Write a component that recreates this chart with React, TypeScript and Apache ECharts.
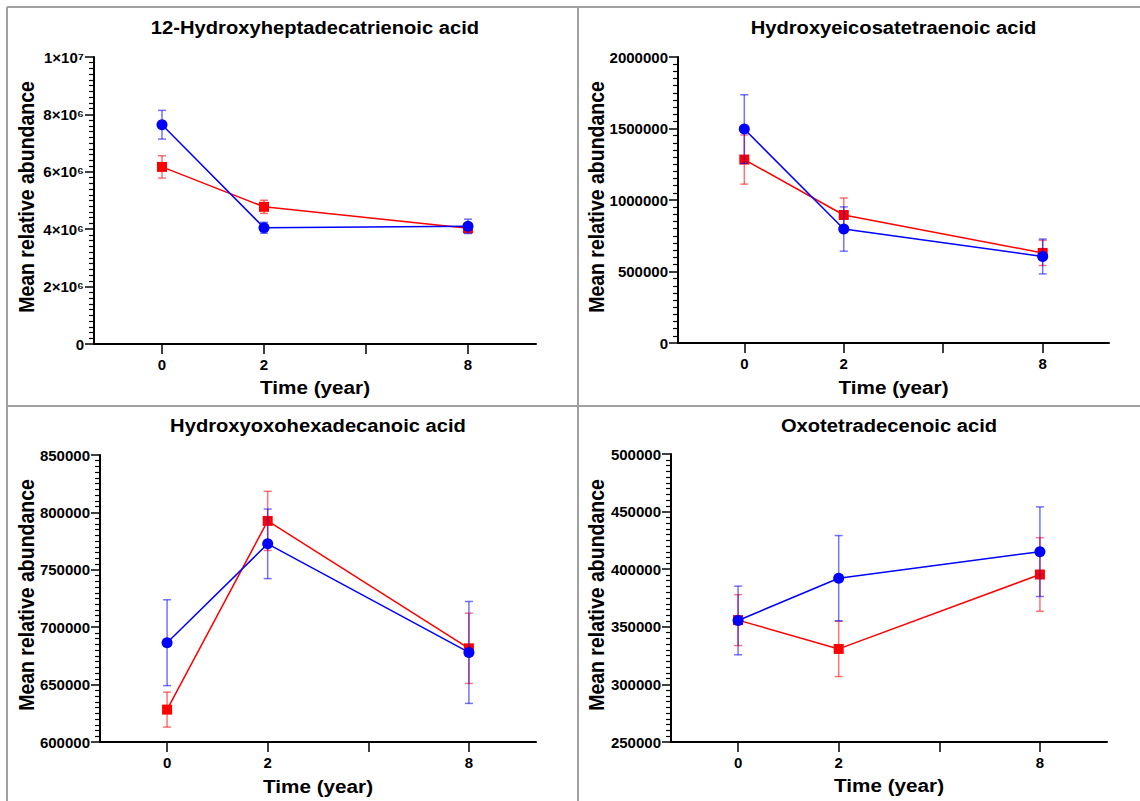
import React, { useEffect, useRef } from "react";
import * as echarts from "echarts";

// ---------- data ----------
const timeLabels = ["0", "2", "8"];
const timePositions = [0, 1, 3];
const tickPositions = [0, 1, 2, 3];

const titles = [
  "12-Hydroxyheptadecatrienoic acid",
  "Hydroxyeicosatetraenoic acid",
  "Hydroxyoxohexadecanoic acid",
  "Oxotetradecenoic acid",
];
const yAxisName = "Mean relative abundance";
const xAxisName = "Time (year)";

const p1RedMean = [6170000, 4780000, 4030000];
const p1RedErr = [390000, 230000, 150000];
const p1BlueMean = [7640000, 4050000, 4100000];
const p1BlueErr = [500000, 190000, 250000];

const p2RedMean = [1283000, 895000, 630000];
const p2RedErr = [172000, 119000, 88000];
const p2BlueMean = [1496000, 797000, 605000];
const p2BlueErr = [240000, 155000, 122000];

const p3RedMean = [628200, 792600, 681600];
const p3RedErr = [15200, 25800, 30600];
const p3BlueMean = [686500, 772600, 678000];
const p3BlueErr = [37400, 30300, 44400];

const p4RedMean = [355800, 330800, 395400];
const p4RedErr = [22100, 24000, 32000];
const p4BlueMean = [355500, 392200, 415200];
const p4BlueErr = [29800, 37000, 38900];

const yMins = [0, 0, 600000, 250000];
const yMaxs = [10000000, 2000000, 850000, 500000];
const ySteps = [2000000, 500000, 50000, 50000];

// ---------- layout ----------
const FONT = '"Liberation Sans", Arial, sans-serif';
const RED = "#ff0000";
const BLUE = "#0000ff";
const RED_ERR = "rgba(255,0,0,0.55)";
const BLUE_ERR = "rgba(0,0,255,0.55)";

const grids = [
  { left: 94, top: 57, width: 442, height: 287 },
  { left: 678, top: 57, width: 431, height: 286 },
  { left: 100, top: 455, width: 436, height: 287 },
  { left: 671, top: 454, width: 436, height: 288 },
];
const titleY = [27, 27, 425, 425];
const xNameY = [387, 387, 786, 785];
const yNameX = [27, 597, 27, 597];
const yNameY = [197, 197, 595, 595];

const SUP: Record<string, string> = {
  "0": "⁰", "1": "¹", "2": "²", "3": "³", "4": "⁴",
  "5": "⁵", "6": "⁶", "7": "⁷", "8": "⁸", "9": "⁹",
};
function sciLabel(v: number): string {
  if (v === 0) return "0";
  const e = Math.floor(Math.log10(v) + 1e-9);
  const m = Math.round((v / Math.pow(10, e)) * 100) / 100;
  return `${m}×10${String(e).split("").map((c) => SUP[c]).join("")}`;
}

function errRender(color: string) {
  return (params: any, api: any) => {
    const x = api.value(0);
    const lo = api.coord([x, api.value(1)]);
    const hi = api.coord([x, api.value(2)]);
    const w = 4;
    const style = { stroke: color, lineWidth: 1.5 };
    return {
      type: "group",
      children: [
        { type: "line", shape: { x1: lo[0], y1: lo[1], x2: hi[0], y2: hi[1] }, style },
        { type: "line", shape: { x1: lo[0] - w, y1: lo[1], x2: lo[0] + w, y2: lo[1] }, style },
        { type: "line", shape: { x1: hi[0] - w, y1: hi[1], x2: hi[0] + w, y2: hi[1] }, style },
      ],
    };
  };
}

function textEl(text: string, x: number, y: number, size: number, rotate = false) {
  return {
    type: "text",
    x,
    y,
    rotation: rotate ? Math.PI / 2 : 0,
    scaleX: rotate ? 1 : 1.09,
    scaleY: rotate ? 1.09 : 1,
    style: {
      text,
      font: `bold ${size}px ${FONT}`,
      fill: "#000",
      textAlign: "center",
      textVerticalAlign: "middle",
      align: "center",
      verticalAlign: "middle",
    },
  };
}

export default function App() {
  const ref = useRef<HTMLDivElement>(null);

  useEffect(() => {
    if (!ref.current) return;
    const chart = echarts.init(ref.current, null, { renderer: "svg" });

    const reds = [p1RedMean, p2RedMean, p3RedMean, p4RedMean];
    const redErrs = [p1RedErr, p2RedErr, p3RedErr, p4RedErr];
    const blues = [p1BlueMean, p2BlueMean, p3BlueMean, p4BlueMean];
    const blueErrs = [p1BlueErr, p2BlueErr, p3BlueErr, p4BlueErr];

    const xAxes = grids.map((_, i) => ({
      type: "value",
      gridIndex: i,
      min: -2 / 3,
      max: 3 + 2 / 3,
      axisLine: { show: true, onZero: false, lineStyle: { color: "#000", width: 2 } },
      axisTick: {
        show: true,
        customValues: tickPositions,
        length: 10,
        lineStyle: { color: "#000", width: 1.5 },
      },
      axisLabel: {
        customValues: timePositions,
        formatter: (v: number) => {
          const k = timePositions.indexOf(Math.round(v));
          return k >= 0 ? timeLabels[k] : "";
        },
        color: "#000",
        fontWeight: "bold",
        fontSize: 15,
        fontFamily: FONT,
        margin: 13,
      },
      splitLine: { show: false },
    }));

    const yAxes = grids.map((_, i) => ({
      type: "value",
      gridIndex: i,
      min: yMins[i],
      max: yMaxs[i],
      interval: ySteps[i],
      axisLine: { show: true, onZero: false, lineStyle: { color: "#000", width: 2 } },
      axisTick: { show: true, length: 9, lineStyle: { color: "#000", width: 1.5 } },
      minorTick: { show: true, splitNumber: 10, length: 5, lineStyle: { color: "#000", width: 1.2 } },
      axisLabel: {
        color: "#000",
        fontWeight: "bold",
        fontSize: 15,
        fontFamily: FONT,
        margin: 10,
        formatter: i === 0 ? (v: number) => sciLabel(v) : (v: number) => String(v),
      },
      splitLine: { show: false },
      minorSplitLine: { show: false },
    }));

    const series: any[] = [];
    grids.forEach((_, i) => {
      const mk = (means: number[]) => timePositions.map((p, j) => [p, means[j]]);
      const mkErr = (means: number[], errs: number[]) =>
        timePositions.map((p, j) => [p, means[j] - errs[j], means[j] + errs[j]]);
      series.push({
        type: "custom",
        xAxisIndex: i,
        yAxisIndex: i,
        renderItem: errRender(RED_ERR),
        encode: { x: 0, y: [1, 2] },
        data: mkErr(reds[i], redErrs[i]),
        z: 2,
      });
      series.push({
        type: "line",
        xAxisIndex: i,
        yAxisIndex: i,
        data: mk(reds[i]),
        symbol: "rect",
        symbolSize: 10,
        itemStyle: { color: RED },
        lineStyle: { color: RED, width: 1.5 },
        z: 3,
      });
      series.push({
        type: "custom",
        xAxisIndex: i,
        yAxisIndex: i,
        renderItem: errRender(BLUE_ERR),
        encode: { x: 0, y: [1, 2] },
        data: mkErr(blues[i], blueErrs[i]),
        z: 4,
      });
      series.push({
        type: "line",
        xAxisIndex: i,
        yAxisIndex: i,
        data: mk(blues[i]),
        symbol: "circle",
        symbolSize: 11,
        itemStyle: { color: BLUE },
        lineStyle: { color: BLUE, width: 1.5 },
        z: 5,
      });
    });

    const border = { stroke: "#a0a0a0", lineWidth: 2 };
    const graphic: any[] = [
      { type: "line", shape: { x1: 7, y1: 7, x2: 1140, y2: 7 }, style: border },
      { type: "line", shape: { x1: 7, y1: 7, x2: 7, y2: 801 }, style: border },
      { type: "line", shape: { x1: 578, y1: 7, x2: 578, y2: 801 }, style: border },
      { type: "line", shape: { x1: 7, y1: 406, x2: 1140, y2: 406 }, style: border },
    ];
    grids.forEach((g, i) => {
      const cx = g.left + g.width / 2;
      graphic.push(textEl(titles[i], cx, titleY[i], 18.5));
      graphic.push(textEl(xAxisName, cx, xNameY[i], 19));
      graphic.push(textEl(yAxisName, yNameX[i], yNameY[i], 19.5, true));
    });

    chart.setOption({
      animation: false,
      backgroundColor: "#fff",
      grid: grids.map((g) => ({ ...g, containLabel: false })),
      xAxis: xAxes,
      yAxis: yAxes,
      series,
      graphic,
    });

    return () => chart.dispose();
  }, []);

  return (
    <div
      ref={ref}
      style={{ position: "fixed", left: 0, top: 0, width: 1140, height: 801, background: "#fff" }}
    />
  );
}
